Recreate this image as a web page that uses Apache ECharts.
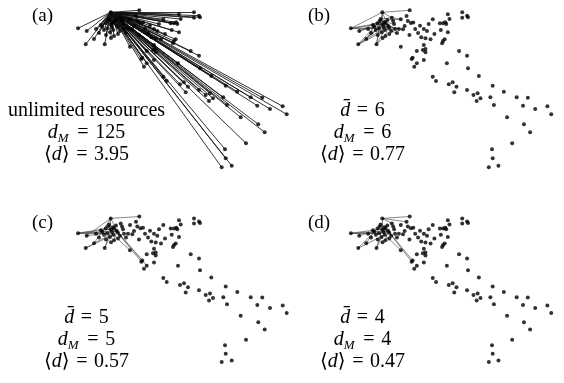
<!DOCTYPE html>
<html>
<head>
<meta charset="utf-8">
<script src="https://cdn.jsdelivr.net/npm/echarts@6/dist/echarts.min.js"></script>
<style>
html,body{margin:0;padding:0;background:#fff;}
#chart{width:564px;height:383px;}
</style>
</head>
<body>
<div id="chart"></div>
<script>
// Node positions (panel-local units), node 0 is the hub
const nodeX = [110.7,139.3,78,86.7,94,85.7,104.7,114,109,105.7,110.7,114,116.7,102.3,107.3,113.3,118,110,120.7,130,
  136,137.3,140.5,143,124,128,132.3,139,130,150,154,157.3,165,151.3,155.7,161,163.3,159,170.7,174,
  176.3,177.3,171.7,179,179,180.7,194,194,199,200,175.7,174,173,154,153,155.7,155.7,146.7,142.3,141.3,
  154,146.7,144,178,190.7,199,200,163.3,166.7,180,184,188,185.7,211.3,199,205.7,210,209,213,223.3,
  225.7,227,237.3,250.7,262.3,257.3,270,282.7,286.7,240.7,258.3,264.7,246,225,225.7,231.7,221.7,
  108,112,104,116,99,120,123,126,134,145,148,101,106,113,118,96,111,122];
const nodeY = [12.3,10.3,28.3,31,39,44.3,44.3,36,19,23.3,24.3,23.3,25.7,26.7,28.3,30,27.7,32.3,17.7,19.3,
  16,21,23,22.5,29,29,29.3,35,46.7,25.7,29,31,34,37.3,38.3,39.3,19.3,24,23.3,23.3,
  22.3,24,30,32.3,14.3,19,12.3,17.7,15.7,17.3,39.3,41,43.3,45,50,49,52.3,51,57.7,59,
  60,63.3,66.7,63.3,51,55.7,68.3,76.7,81,84.3,82.3,86.7,92.3,76,90,95,93.3,101,98.3,97.3,
  85.7,105,91.7,97.3,97.7,105.7,109,106.3,114.3,117.3,124.3,132.3,143.3,149.3,158.3,165.7,167.3,
  21,27,30,20,33,31,24,33,26,29,33,25,35,22,34,29,38,21];

// Edges (node index pairs) for the resource-limited panels
const edgesB = [[0,1],[0,2],[0,10],[0,12],[0,18],[0,6],[2,11],[2,14],[2,9],[2,16],[3,13],[3,10],[3,97],
  [5,9],[5,14],[5,12],[5,17],[6,15],[6,7],[6,8],[4,13],[4,99],[7,12],[8,11],[8,18],[9,16],[10,16],
  [11,24],[12,25],[13,98],[14,100],[15,24],[16,26],[17,11],[18,19],[97,103],[98,102],[100,19],[101,11],[102,104]];
const edgesC = [[0,1],[0,3],[0,10],[0,13],[0,16],[2,14],[2,11],[2,12],[2,9],[2,98],[3,14],[5,15],[5,12],
  [6,17],[6,10],[4,13],[7,12],[8,11],[9,16],[97,100],[16,58],[12,61],[15,28],[11,59]];
const edgesD = [[0,1],[0,18],[0,20],[0,10],[2,11],[2,14],[2,12],[2,16],[3,13],[5,15],[5,9],[6,10],[6,17],
  [4,13],[7,12],[8,11],[9,16],[97,100],[16,59],[15,28],[12,58]];

const panelLabels = ['(a)','(b)','(c)','(d)'];
const EQ = '\u2004=\u2004';
const statLines = [
  ['unlimited resources', '{i|d}{s|M}{n|'+EQ+'125}', '{n|⟨}{i|d}{n|⟩'+EQ+'3.95}'],
  ['{i|d̄}{n|'+EQ+'6}', '{i|d}{s|M}{n|'+EQ+'6}', '{n|⟨}{i|d}{n|⟩'+EQ+'0.77}'],
  ['{i|d̄}{n|'+EQ+'5}', '{i|d}{s|M}{n|'+EQ+'5}', '{n|⟨}{i|d}{n|⟩'+EQ+'0.57}'],
  ['{i|d̄}{n|'+EQ+'4}', '{i|d}{s|M}{n|'+EQ+'4}', '{n|⟨}{i|d}{n|⟩'+EQ+'0.47}']
];

const points = nodeX.map((x,i)=>[x,nodeY[i]]);
const edgesA = [];
for (let i=1;i<points.length;i++) edgesA.push([0,i]);
const allEdges = [edgesA, edgesB, edgesC, edgesD];

const origins = [[0,0],[276,0],[0,207],[276,207]];
const FONT = '"Liberation Serif","DejaVu Serif",serif';

const grids=[], xAxes=[], yAxes=[], series=[], graphics=[];
origins.forEach((o,k)=>{
  grids.push({left:o[0], top:o[1], width:300, height:190});
  xAxes.push({type:'value', gridIndex:k, min:0, max:300, show:false});
  yAxes.push({type:'value', gridIndex:k, min:0, max:190, inverse:true, show:false});
  series.push({
    type:'lines', coordinateSystem:'cartesian2d', xAxisIndex:k, yAxisIndex:k, silent:true,
    lineStyle:{color: k===0 ? '#111' : '#505050', width: k===0 ? 1 : 0.8, opacity: 0.85},
    data: allEdges[k].map(e=>({coords:[points[e[0]], points[e[1]]]}))
  });
  series.push({
    type:'scatter', xAxisIndex:k, yAxisIndex:k, symbolSize:4, silent:true, clip:false,
    itemStyle:{color:'#000'}, data: points
  });
  graphics.push({type:'text', left:o[0]+32, top:o[1]+7,
    style:{text:panelLabels[k], font:'19px '+FONT, fill:'#000'}});
  const cx = o[0] + 86.5;
  const ys = [111, 133, 155];
  statLines[k].forEach((t,j)=>{
    graphics.push({type:'text', x:cx, y:o[1]+ys[j],
      style:{text:t, align:'center', verticalAlign:'middle', fill:'#000', font:'20px '+FONT,
        rich:{
          n:{fontFamily:FONT, fontSize:20, lineHeight:24, verticalAlign:'middle'},
          i:{fontFamily:FONT, fontSize:20, fontStyle:'italic', lineHeight:24, verticalAlign:'middle'},
          s:{fontFamily:FONT, fontSize:13, fontStyle:'italic', lineHeight:24, verticalAlign:'bottom', padding:[0,2,0,0]}
        }}});
  });
});

const chart = echarts.init(document.getElementById('chart'), null, {renderer:'canvas'});
chart.setOption({
  backgroundColor:'#fff', animation:false,
  grid:grids, xAxis:xAxes, yAxis:yAxes, series:series, graphic:graphics
});
</script>
</body>
</html>
